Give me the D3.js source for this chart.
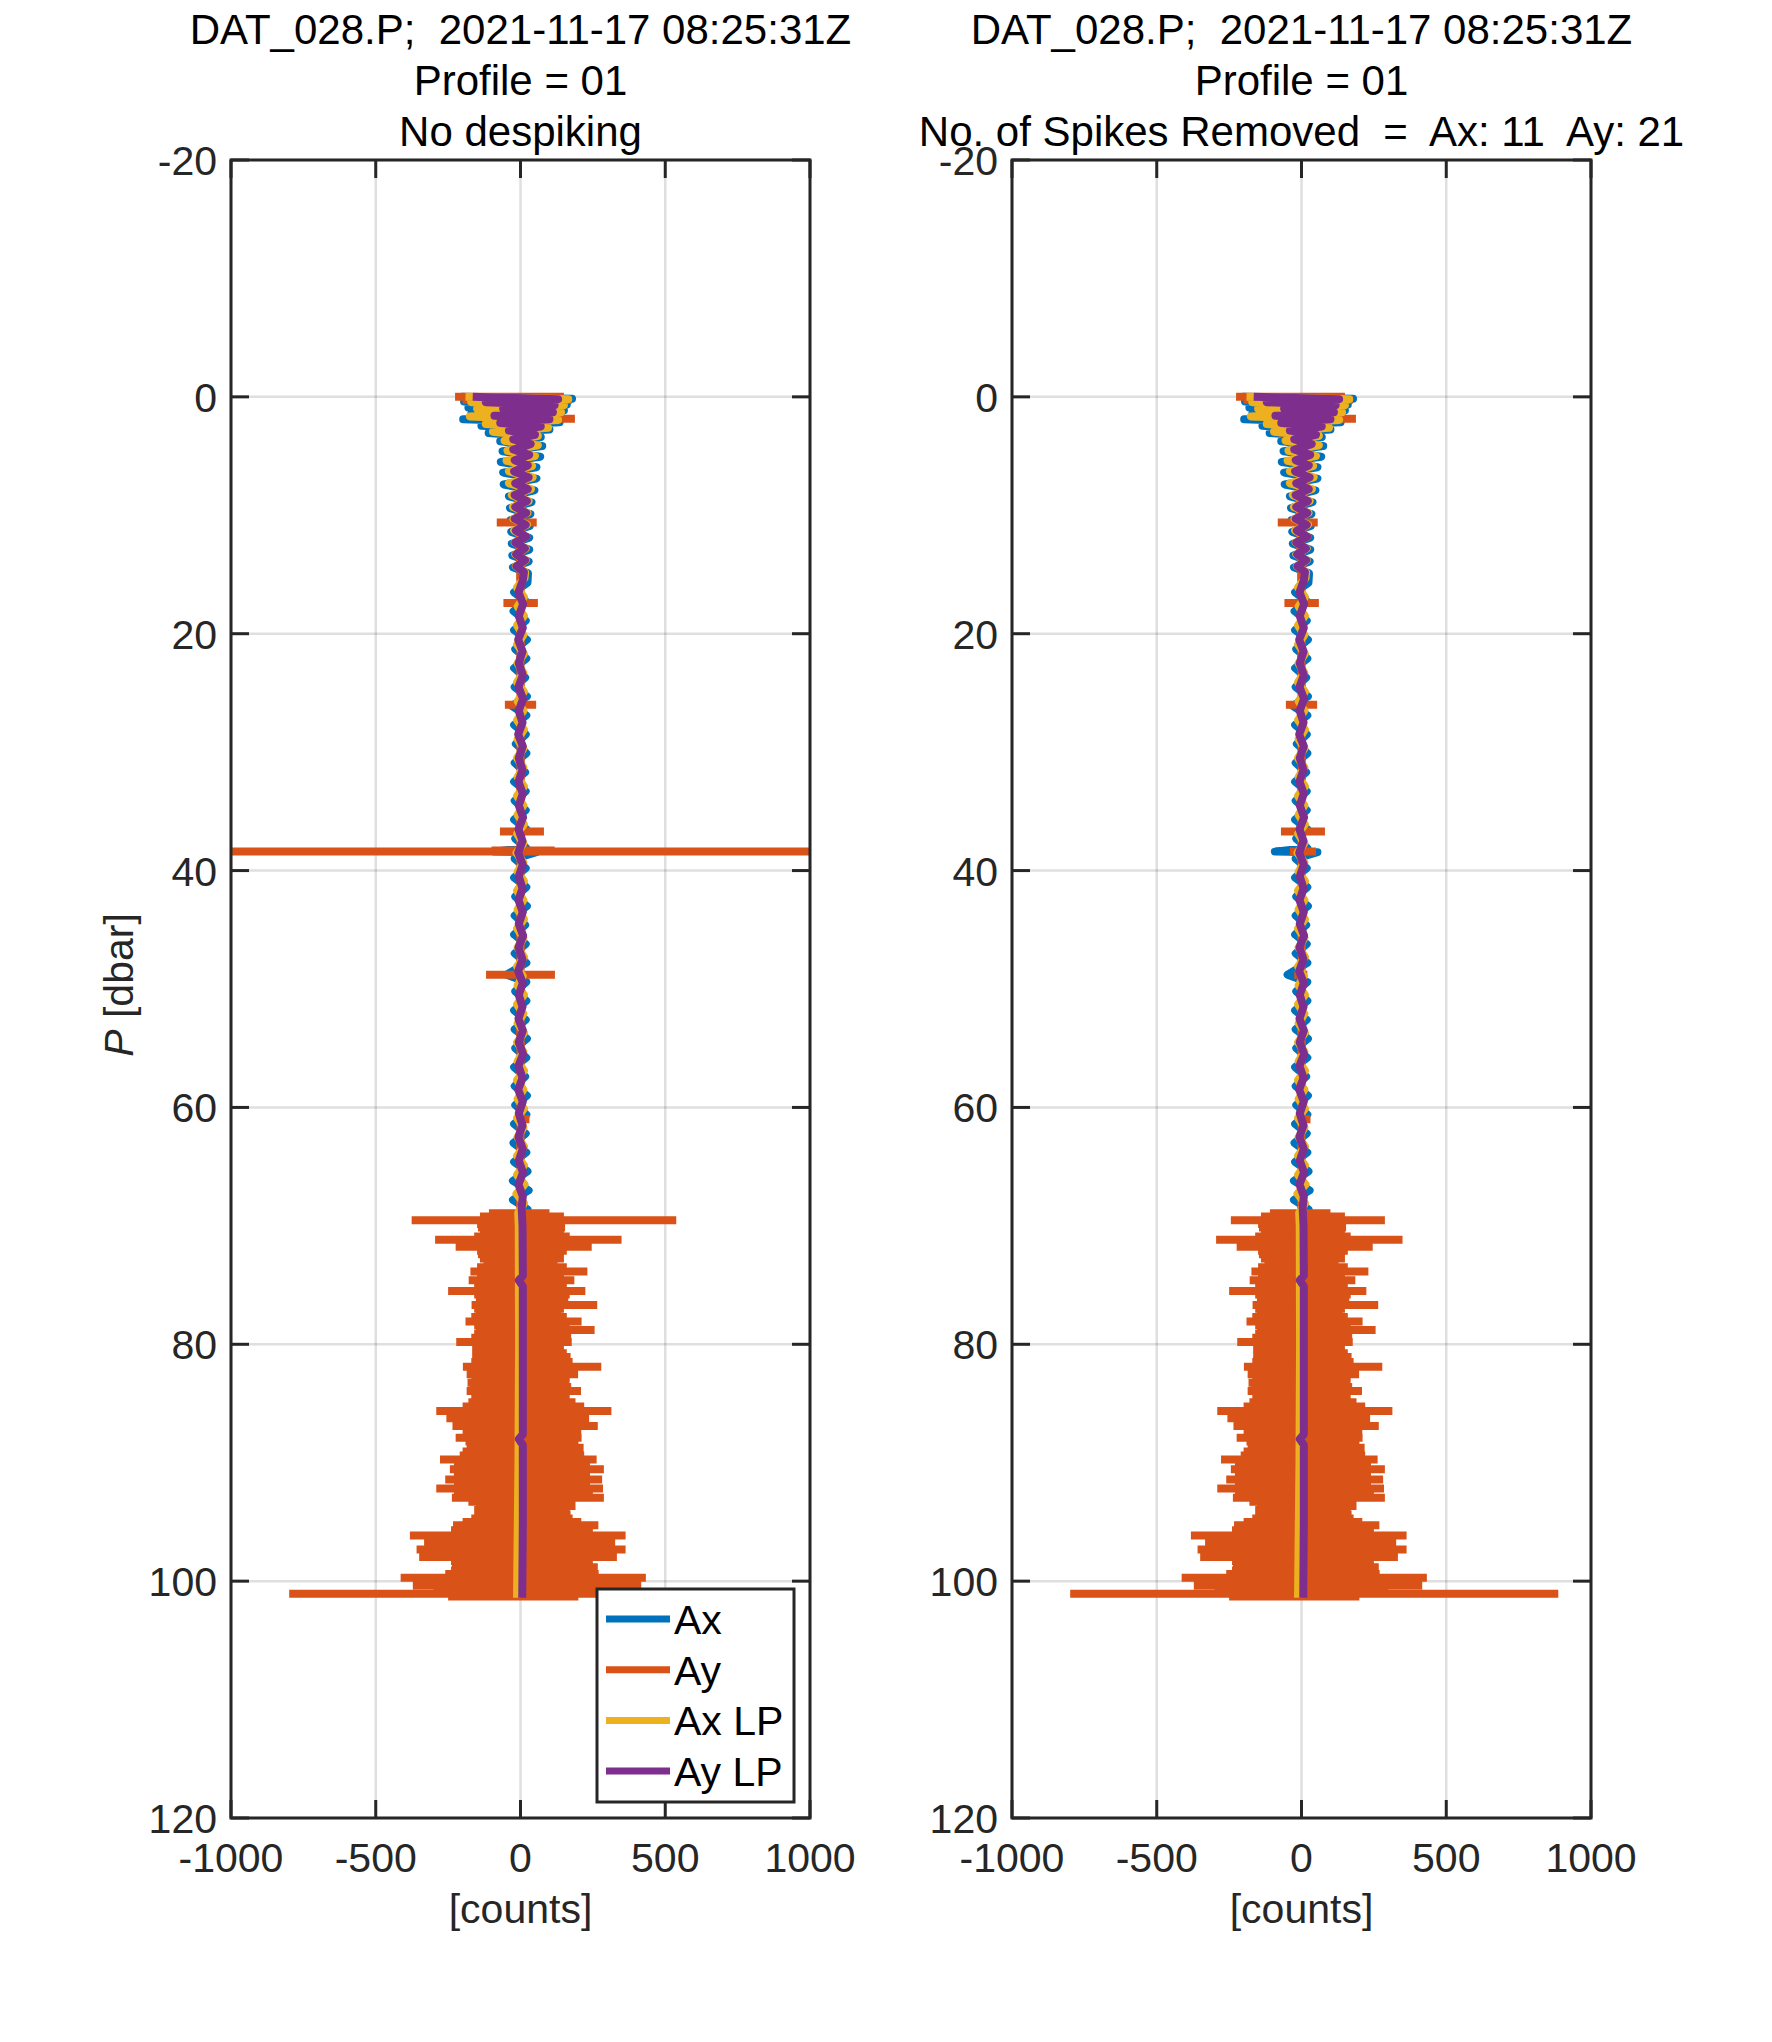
<!DOCTYPE html>
<html>
<head>
<meta charset="utf-8">
<script src="https://cdn.jsdelivr.net/npm/d3@7"></script>
<style>
  html, body { margin: 0; padding: 0; background: #ffffff; }
  svg { display: block; }
  text { font-family: "Liberation Sans", Arial, Helvetica, sans-serif; }
</style>
</head>
<body>
<div id="chart"></div>
<script>
// Profile plot: Ax / Ay accelerometer counts vs pressure, raw and despiked

const TITLE_LINE1 = "DAT_028.P;  2021-11-17 08:25:31Z";
const TITLE_LINE2 = "Profile = 01";
const TITLE_LEFT3 = "No despiking";
const TITLE_RIGHT3 = "No. of Spikes Removed  =  Ax: 11  Ay: 21";

const X_TICKS = [-1000, -500, 0, 500, 1000];
const Y_TICKS = [-20, 0, 20, 40, 60, 80, 100, 120];
const LEGEND_LABELS = ["Ax", "Ay", "Ax LP", "Ay LP"];

// Ax (raw) : pressure [dbar] and counts
const axP = [0.0,0.15,0.4,0.65,0.9,1.15,1.45,1.7,1.9,2.15,2.45,2.75,3.05,3.4,3.75,4.15,4.6,5.05,5.5,5.95,6.4,6.9,7.4,7.9,8.4,8.9,9.4,9.9,10.4,10.9,11.4,11.9,12.4,12.9,13.4,13.9,14.4,14.9,
  15.7,16.5,17.3,18.1,18.9,19.7,20.5,21.3,22.1,22.9,23.7,24.5,25.3,26.1,26.9,27.7,28.5,29.3,30.1,30.9,31.7,32.5,33.3,34.1,34.9,35.7,36.5,37.3,38.1,38.4,38.45,
  39.0,39.8,40.6,41.4,42.2,43.0,43.8,44.6,45.4,46.2,47.0,47.8,48.8,49.4,50.2,51.0,51.8,52.6,53.4,54.2,55.0,55.8,56.6,57.4,58.2,59.0,59.8,60.6,61.4,62.2,63.0,63.8,
  64.6,65.4,66.2,67.0,67.8,68.6,70,75,80,85,90,95,100,101.4];
const axV = [-205,178,-195,160,-180,150,-170,140,-198,135,-135,100,-110,70,-70,75,-62,68,-68,55,-60,55,-58,48,-40,38,-36,34,-34,32,-32,30,-30,30,-28,28,-26,26,
  24,-22,20,-24,18,-22,22,-18,20,-22,16,-20,22,-30,20,-22,18,-16,20,-20,16,-22,18,-20,18,-22,20,-18,20,-92,55,
  -20,18,-22,20,-18,22,-20,16,-22,18,-20,20,-48,20,-18,20,-22,18,-20,22,-18,20,-22,16,-20,22,-18,20,-22,18,-24,20,
  -22,24,-26,28,-26,24,-15,15,-15,15,-15,15,-15,5];

// Ax LP
const axLpP = [0.0,0.2,0.45,0.7,1.0,1.3,1.65,1.95,2.3,2.6,2.95,3.3,3.7,4.1,4.55,5.0,5.4,5.85,6.3,6.8,7.3,7.8,8.3,8.8,9.3,9.8,10.3,10.8,11.3,11.8,12.3,12.8,13.3,13.8,14.3,14.8,
  15.3,16.1,16.9,17.7,18.5,19.3,20.1,20.9,21.7,22.5,23.3,24.1,24.9,25.7,26.5,27.3,28.1,28.9,29.7,30.5,31.3,32.1,32.9,33.7,34.5,35.3,36.1,36.9,37.7,38.5,
  39.3,40.1,40.9,41.7,42.5,43.3,44.1,44.9,45.7,46.5,47.3,48.1,48.9,49.7,50.5,51.3,52.1,52.9,53.7,54.5,55.3,56.1,56.9,57.7,58.5,59.3,60.1,60.9,61.7,62.5,
  63.3,64.1,64.9,65.7,66.5,67.3,68.1,68.9,70,80,90,101.4];
const axLpV = [-190,165,-170,150,-150,140,-175,130,-120,95,-95,60,-55,60,-45,50,-48,40,-40,42,-40,36,-30,28,-26,24,-24,22,-22,20,-20,18,-18,18,-16,16,
  14,-12,12,-10,12,-12,10,-12,12,-10,10,-12,12,-10,10,-12,12,-10,10,-12,10,-10,12,-12,10,-10,12,-12,10,-14,
  10,-10,12,-12,10,-10,12,-12,10,-10,12,-12,8,-10,12,-12,10,-10,12,-12,10,-10,12,-12,10,-10,12,-12,10,-10,
  12,-12,12,-12,14,-14,12,-8,-6,-5,-7,-12];

// Ay LP
const ayLpP = [0.0,0.2,0.45,0.7,1.0,1.3,1.6,1.9,2.2,2.5,2.85,3.2,3.6,4.0,4.45,4.9,5.35,5.8,6.3,6.8,7.3,7.8,8.3,8.8,9.3,9.8,10.3,10.8,11.3,11.8,12.3,12.8,13.3,13.8,14.3,14.8,
  15.5,16.5,17.5,18.5,19.5,20.5,21.5,22.5,23.5,24.5,25.5,26.5,27.5,28.5,29.5,30.5,31.5,32.5,33.5,34.5,35.5,36.5,37.5,38.5,39.5,40.5,41.5,42.5,43.5,44.5,
  45.5,46.5,47.5,48.5,49.5,50.5,51.5,52.5,53.5,54.5,55.5,56.5,57.5,58.5,59.5,60.5,61.5,62.5,63.5,64.5,65.5,66.5,67.5,68.5,
  70,74.2,74.6,75.1,80,87.6,88.0,88.5,95,101.4];
const ayLpV = [-165,130,-120,118,-60,112,-90,100,-70,70,-40,50,-25,35,-25,30,-20,25,-22,28,-18,25,-20,22,-18,20,-20,18,-16,20,-18,15,-15,16,-14,12,
  8,-7,9,-6,8,-8,7,-6,8,-7,9,-6,7,-8,8,-6,7,-7,8,-6,9,-7,7,-8,8,-6,7,-7,8,-6,
  9,-7,7,-8,8,-6,7,-7,8,-6,9,-7,7,-8,8,-6,7,-7,8,-6,9,-7,8,4,
  7,8,-6,8,8,8,-6,8,8,6];

// Ay (despiked) : one row per pressure, most negative and most positive excursion
const ayRowP = [0.0,0.25,0.55,0.9,1.25,1.6,1.85,2.2,2.6,3.0,3.4,3.8,5.0,6.2,7.4,8.6,9.8,10.6,11.6,12.8,14.0,15.2,16.4,17.4,18.6,19.8,21.0,22.2,23.4,24.6,
  26.0,27.2,28.4,29.6,30.8,32.0,33.2,34.4,35.6,36.7,37.6,38.4,39.4,40.6,41.8,43.0,44.2,45.4,46.6,47.8,48.8,50.0,51.2,52.4,53.6,54.8,56.0,57.2,58.4,59.6,
  61.0,62.2,63.4,64.6,65.8,67.0,68.2,68.93,69.2,69.52,69.85,70.14,70.56,70.9,71.18,71.5,71.77,72.1,72.39,72.75,73.1,73.5,73.86,74.2,74.59,75.0,75.5,75.8,
  76.06,76.4,76.68,77.0,77.38,77.7,78.08,78.4,78.79,79.1,79.45,79.8,80.1,80.42,80.75,81.07,81.5,81.89,82.2,82.54,82.9,83.24,83.6,83.94,84.25,84.56,84.9,
  85.25,85.63,85.95,86.25,86.6,86.9,87.25,87.55,87.89,88.2,88.45,88.73,89.05,89.4,89.72,90.05,90.3,90.56,90.9,91.15,91.41,91.8,92.17,92.55,92.96,93.3,
  93.66,94.0,94.37,94.7,95.0,95.27,95.7,96.14,96.45,96.76,97.05,97.32,97.65,97.97,98.3,98.55,98.82,99.1,99.4,99.72,100.05,100.37,100.7,101.07,101.3];
const ayRowLo = [-226,-200,-160,-140,-150,-130,-120,-110,-90,-80,-60,-45,-35,-30,-25,-22,-20,-82,-18,-18,-16,-15,-16,-59,-14,-15,-14,-15,-14,-15,
  -54,-14,-15,-14,-15,-14,-15,-14,-15,-71,-14,-40,-14,-15,-14,-15,-14,-15,-14,-15,-25,-14,-15,-14,-15,-14,-15,-14,-15,-14,
  -15,-14,-15,-14,-15,-14,-15,-109,-140,-244,-150,-147,-140,-160,-295,-170,-224,-150,-147,-140,-128,-150,-173,-150,-179,-160,-250,-160,
  -154,-150,-169,-160,-154,-170,-190,-160,-154,-160,-170,-222,-160,-167,-160,-167,-170,-199,-175,-186,-170,-183,-175,-186,-170,-164,-180,
  -200,-291,-230,-256,-210,-235,-200,-190,-224,-190,-180,-186,-200,-210,-278,-220,-230,-244,-230,-220,-260,-230,-291,-230,-237,-180,
  -154,-160,-160,-170,-200,-233,-240,-382,-300,-333,-290,-359,-300,-350,-240,-230,-237,-240,-260,-414,-300,-372,-300,-799,-250];
const ayRowHi = [150,177,140,130,120,130,188,100,80,60,50,45,40,30,28,22,20,56,18,16,18,15,14,60,15,14,15,14,14,15,
  54,15,14,14,15,15,14,14,15,81,14,50,15,14,15,14,14,15,15,14,20,15,14,14,15,15,14,14,15,14,
  31,14,15,14,15,14,15,100,150,288,140,154,150,170,349,180,246,160,141,150,128,160,231,150,186,160,224,170,
  160,165,265,150,141,160,211,170,256,160,175,177,150,147,160,173,180,279,180,199,170,167,175,209,170,160,190,
  220,314,220,237,220,267,210,200,211,200,190,218,210,220,263,230,240,288,240,230,282,240,285,250,288,190,
  190,170,173,180,210,269,250,363,290,327,300,363,290,333,250,240,267,250,270,433,310,417,300,887,200];

// Ay spikes that the despiking removed (shown only in the raw panel)
const ayRawP  = [38.3, 38.4, 48.8, 69.52];
const ayRawLo = [-100, -1400, -119, -376];
const ayRawHi = [118, 1400, 119, 538];

const COLORS = { ax: "#0072BD", ay: "#D95319", axLp: "#EDB120", ayLp: "#7E2F8E" };
const AXIS_COLOR = "#262626";

const W = 1772, H = 2042;
const plotTop = 160, plotBottom = 1818;
const FS = 41;
const panels = [
  { left: 231, right: 810, title3: TITLE_LEFT3, raw: true, legend: true, ylabel: true },
  { left: 1012, right: 1591, title3: TITLE_RIGHT3, raw: false, legend: false, ylabel: false }
];

const y = d3.scaleLinear().domain([-20, 120]).range([plotTop, plotBottom]);

function pairs(P, V) { return P.map((p, i) => [V[i], p]); }

// each row is an out-and-back excursion at (almost) constant pressure
function rowsToPath(P, lo, hi) {
  const pts = [];
  P.forEach((p, i) => {
    pts.push([0, p]); pts.push([lo[i], p]); pts.push([hi[i], p]); pts.push([0, p]);
  });
  return pts;
}

function ayRows(raw) {
  const rows = ayRowP.map((p, i) => ({ p, lo: ayRowLo[i], hi: ayRowHi[i] }))
    .filter(r => !raw || !ayRawP.includes(r.p));
  if (raw) ayRawP.forEach((p, i) => rows.push({ p, lo: ayRawLo[i], hi: ayRawHi[i] }));
  rows.sort((a, b) => a.p - b.p);
  return { P: rows.map(r => r.p), lo: rows.map(r => r.lo), hi: rows.map(r => r.hi) };
}

const svg = d3.select("#chart").append("svg").attr("width", W).attr("height", H);
svg.append("rect").attr("width", W).attr("height", H).attr("fill", "#ffffff");

panels.forEach((pn, k) => {
  const x = d3.scaleLinear().domain([-1000, 1000]).range([pn.left, pn.right]);
  const g = svg.append("g");
  const clipId = "clip" + k;

  svg.append("clipPath").attr("id", clipId)
    .append("rect")
    .attr("x", pn.left).attr("y", plotTop)
    .attr("width", pn.right - pn.left).attr("height", plotBottom - plotTop);

  // grid
  const grid = g.append("g");
  X_TICKS.forEach(t => {
    grid.append("line")
      .attr("x1", x(t)).attr("x2", x(t)).attr("y1", plotTop).attr("y2", plotBottom)
      .attr("stroke", AXIS_COLOR).attr("stroke-opacity", 0.15).attr("stroke-width", 2.5);
  });
  Y_TICKS.forEach(t => {
    grid.append("line")
      .attr("x1", pn.left).attr("x2", pn.right).attr("y1", y(t)).attr("y2", y(t))
      .attr("stroke", AXIS_COLOR).attr("stroke-opacity", 0.15).attr("stroke-width", 2.5);
  });

  // data
  const line = d3.line().x(d => x(d[0])).y(d => y(d[1]));
  const data = g.append("g").attr("clip-path", `url(#${clipId})`);
  const rows = ayRows(pn.raw);

  const series = [
    { pts: pairs(axP, axV), color: COLORS.ax, join: "round" },
    { pts: rowsToPath(rows.P, rows.lo, rows.hi), color: COLORS.ay, join: "miter" },
    { pts: pairs(axLpP, axLpV), color: COLORS.axLp, join: "round" },
    { pts: pairs(ayLpP, ayLpV), color: COLORS.ayLp, join: "round" }
  ];
  series.forEach(s => {
    data.append("path")
      .attr("d", line(s.pts))
      .attr("fill", "none")
      .attr("stroke", s.color)
      .attr("stroke-width", 8)
      .attr("stroke-linejoin", s.join)
      .attr("stroke-linecap", "butt");
  });

  // box + ticks (inside, on all four sides)
  const ax = g.append("g");
  ax.append("rect")
    .attr("x", pn.left).attr("y", plotTop)
    .attr("width", pn.right - pn.left).attr("height", plotBottom - plotTop)
    .attr("fill", "none").attr("stroke", AXIS_COLOR).attr("stroke-width", 3);
  const tl = 18;
  X_TICKS.forEach(t => {
    ax.append("line").attr("x1", x(t)).attr("x2", x(t)).attr("y1", plotBottom).attr("y2", plotBottom - tl)
      .attr("stroke", AXIS_COLOR).attr("stroke-width", 3);
    ax.append("line").attr("x1", x(t)).attr("x2", x(t)).attr("y1", plotTop).attr("y2", plotTop + tl)
      .attr("stroke", AXIS_COLOR).attr("stroke-width", 3);
    ax.append("text")
      .attr("x", x(t)).attr("y", 1872)
      .attr("text-anchor", "middle")
      .style("font-size", FS + "px").style("fill", AXIS_COLOR)
      .text(t);
  });
  Y_TICKS.forEach(t => {
    ax.append("line").attr("x1", pn.left).attr("x2", pn.left + tl).attr("y1", y(t)).attr("y2", y(t))
      .attr("stroke", AXIS_COLOR).attr("stroke-width", 3);
    ax.append("line").attr("x1", pn.right).attr("x2", pn.right - tl).attr("y1", y(t)).attr("y2", y(t))
      .attr("stroke", AXIS_COLOR).attr("stroke-width", 3);
    ax.append("text")
      .attr("x", pn.left - 14).attr("y", y(t) + 15)
      .attr("text-anchor", "end")
      .style("font-size", FS + "px").style("fill", AXIS_COLOR)
      .text(t);
  });

  // x label
  g.append("text")
    .attr("x", (pn.left + pn.right) / 2).attr("y", 1923)
    .attr("text-anchor", "middle")
    .style("font-size", FS + "px").style("fill", AXIS_COLOR)
    .text("[counts]");

  // y label
  if (pn.ylabel) {
    const yl = g.append("text")
      .attr("transform", `translate(133,${(plotTop + plotBottom) / 2 - 4}) rotate(-90)`)
      .attr("text-anchor", "middle")
      .style("font-size", FS + "px").style("fill", AXIS_COLOR);
    yl.append("tspan").style("font-style", "italic").text("P");
    yl.append("tspan").text(" [dbar]");
  }

  // title (three lines)
  const cx = (pn.left + pn.right) / 2;
  [TITLE_LINE1, TITLE_LINE2, pn.title3].forEach((t, i) => {
    g.append("text")
      .attr("x", cx).attr("y", 44 + i * 51)
      .attr("text-anchor", "middle")
      .style("font-size", "42px").style("fill", "#000000")
      .style("white-space", "pre")
      .text(t);
  });

  // legend
  if (pn.legend) {
    const lg = g.append("g");
    lg.append("rect")
      .attr("x", 597).attr("y", 1589).attr("width", 197).attr("height", 213)
      .attr("fill", "#ffffff").attr("stroke", AXIS_COLOR).attr("stroke-width", 3);
    const cols = [COLORS.ax, COLORS.ay, COLORS.axLp, COLORS.ayLp];
    LEGEND_LABELS.forEach((lab, i) => {
      const ly = 1619 + i * 50.7;
      lg.append("line").attr("x1", 606).attr("x2", 670).attr("y1", ly).attr("y2", ly)
        .attr("stroke", cols[i]).attr("stroke-width", 7);
      lg.append("text").attr("x", 674).attr("y", ly + 15)
        .style("font-size", FS + "px").style("fill", "#000000")
        .text(lab);
    });
  }
});
</script>
</body>
</html>
